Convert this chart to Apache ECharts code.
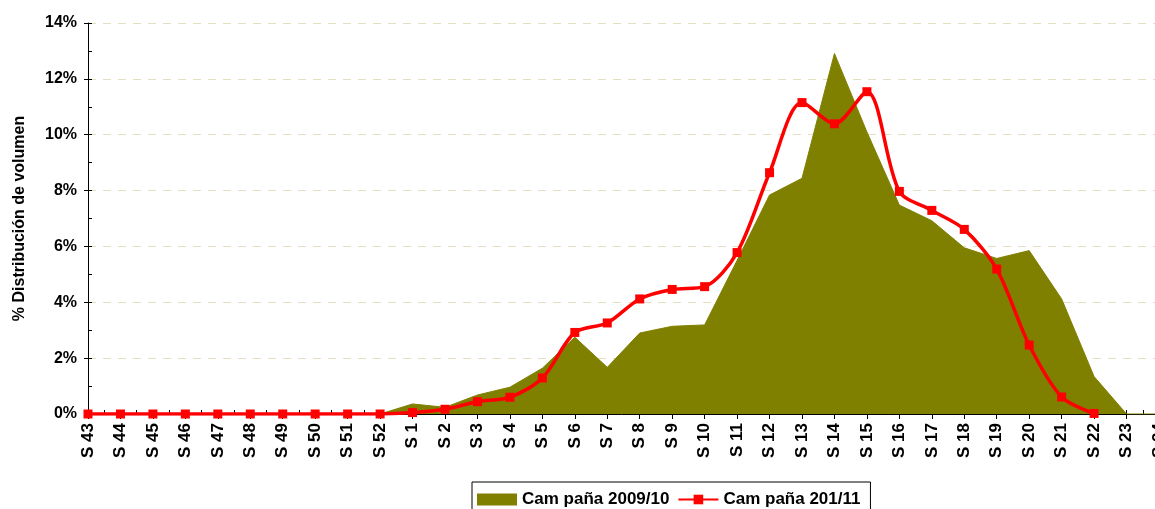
<!DOCTYPE html>
<html>
<head>
<meta charset="utf-8">
<script src="https://cdn.jsdelivr.net/npm/echarts@6/dist/echarts.min.js"></script>
<style>
  html, body { margin: 0; padding: 0; background: #fff; }
  #chart { width: 1155px; height: 509px; }
</style>
</head>
<body>
<div id="chart"></div>
<script>
// semanas de la campaña
var semanas = ['S 43','S 44','S 45','S 46','S 47','S 48','S 49','S 50','S 51','S 52',
  'S 1','S 2','S 3','S 4','S 5','S 6','S 7','S 8','S 9','S 10','S 11','S 12',
  'S 13','S 14','S 15','S 16','S 17','S 18','S 19','S 20','S 21','S 22','S 23','S 24'];

// % distribucion de volumen
var campana0910 = [0,0,0,0,0,0,0,0,0,0,
  0.36,0.24,0.68,0.96,1.64,2.75,1.67,2.90,3.14,3.19,5.50,7.84,
  8.44,12.91,10.10,7.48,6.92,5.95,5.57,5.85,4.12,1.34,0,0];
var campana1011 = [0,0,0,0,0,0,0,0,0,0,
  0.05,0.17,0.44,0.60,1.29,2.92,3.26,4.12,4.46,4.56,5.78,8.64,
  11.15,10.39,11.54,7.97,7.29,6.61,5.19,2.47,0.61,0.02,'-','-'];

var yTicks = { min: 0, max: 14, interval: 2 };
var nombres = ['Cam paña 2009/10', 'Cam paña 201/11'];

var fuente = 'Arial, "Liberation Sans", sans-serif';

var chart = echarts.init(document.getElementById('chart'));
chart.setOption({
  animation: false,
  grid: { left: 88, top: 23, width: 1071, height: 391, containLabel: false, outerBoundsMode: 'none' },
  legend: {
    left: 472,
    top: 482,
    padding: [9, 10, 9, 5],
    itemGap: 8,
    itemWidth: 40,
    itemHeight: 12,
    borderColor: '#000',
    borderWidth: 1,
    textStyle: { fontFamily: fuente, fontWeight: 'bold', fontSize: 17, color: '#000' },
    data: [{ name: nombres[0], icon: 'rect' }, { name: nombres[1] }]
  },
  xAxis: [{
    type: 'category',
    data: semanas,
    boundaryGap: false,
    axisLine: { lineStyle: { color: '#000', width: 1 } },
    axisTick: { show: true, interval: 0, length: 5, lineStyle: { color: '#000' } },
    axisLabel: {
      interval: 0, rotate: 90, margin: 9,
      fontFamily: fuente, fontWeight: 'bold', fontSize: 17, color: '#000'
    },
    splitLine: { show: false }
  }, {
    // marcas menores entre semanas
    type: 'value',
    position: 'bottom',
    min: 0, max: semanas.length - 1, interval: 0.5,
    axisLine: { show: false },
    axisTick: { show: true, inside: true, length: 4, lineStyle: { color: '#000' } },
    axisLabel: { show: false },
    splitLine: { show: false }
  }],
  yAxis: [{
    type: 'value',
    min: yTicks.min, max: yTicks.max, interval: yTicks.interval,
    name: '% Distribución de volumen',
    nameLocation: 'middle',
    nameRotate: 90,
    nameGap: 60,
    nameTextStyle: { fontFamily: fuente, fontWeight: 'bold', fontSize: 16, color: '#000' },
    axisLine: { show: true, lineStyle: { color: '#000', width: 1 } },
    axisTick: { show: true, length: 4, lineStyle: { color: '#000' } },
    axisLabel: {
      formatter: '{value}%', margin: 11,
      fontFamily: fuente, fontWeight: 'bold', fontSize: 16, color: '#000'
    },
    splitLine: { show: true, lineStyle: { color: '#E6DFC0', width: 1, type: [8, 7] } }
  }, {
    type: 'value',
    position: 'left',
    min: yTicks.min, max: yTicks.max, interval: 1,
    axisLine: { show: false },
    axisTick: { show: true, inside: true, length: 4, lineStyle: { color: '#000' } },
    axisLabel: { show: false },
    splitLine: { show: false }
  }],
  series: [{
    name: nombres[0],
    type: 'line',
    data: campana0910,
    symbol: 'none',
    itemStyle: { color: '#808000' },
    lineStyle: { color: '#808000', width: 1 },
    areaStyle: { color: '#808000', opacity: 1 },
    z: 2
  }, {
    name: nombres[1],
    type: 'line',
    data: campana1011,
    smooth: 0.3,
    symbol: 'rect',
    symbolSize: 9,
    itemStyle: { color: '#FF0000' },
    lineStyle: { color: '#FF0000', width: 3.5 },
    z: 3
  }]
});
</script>
</body>
</html>
